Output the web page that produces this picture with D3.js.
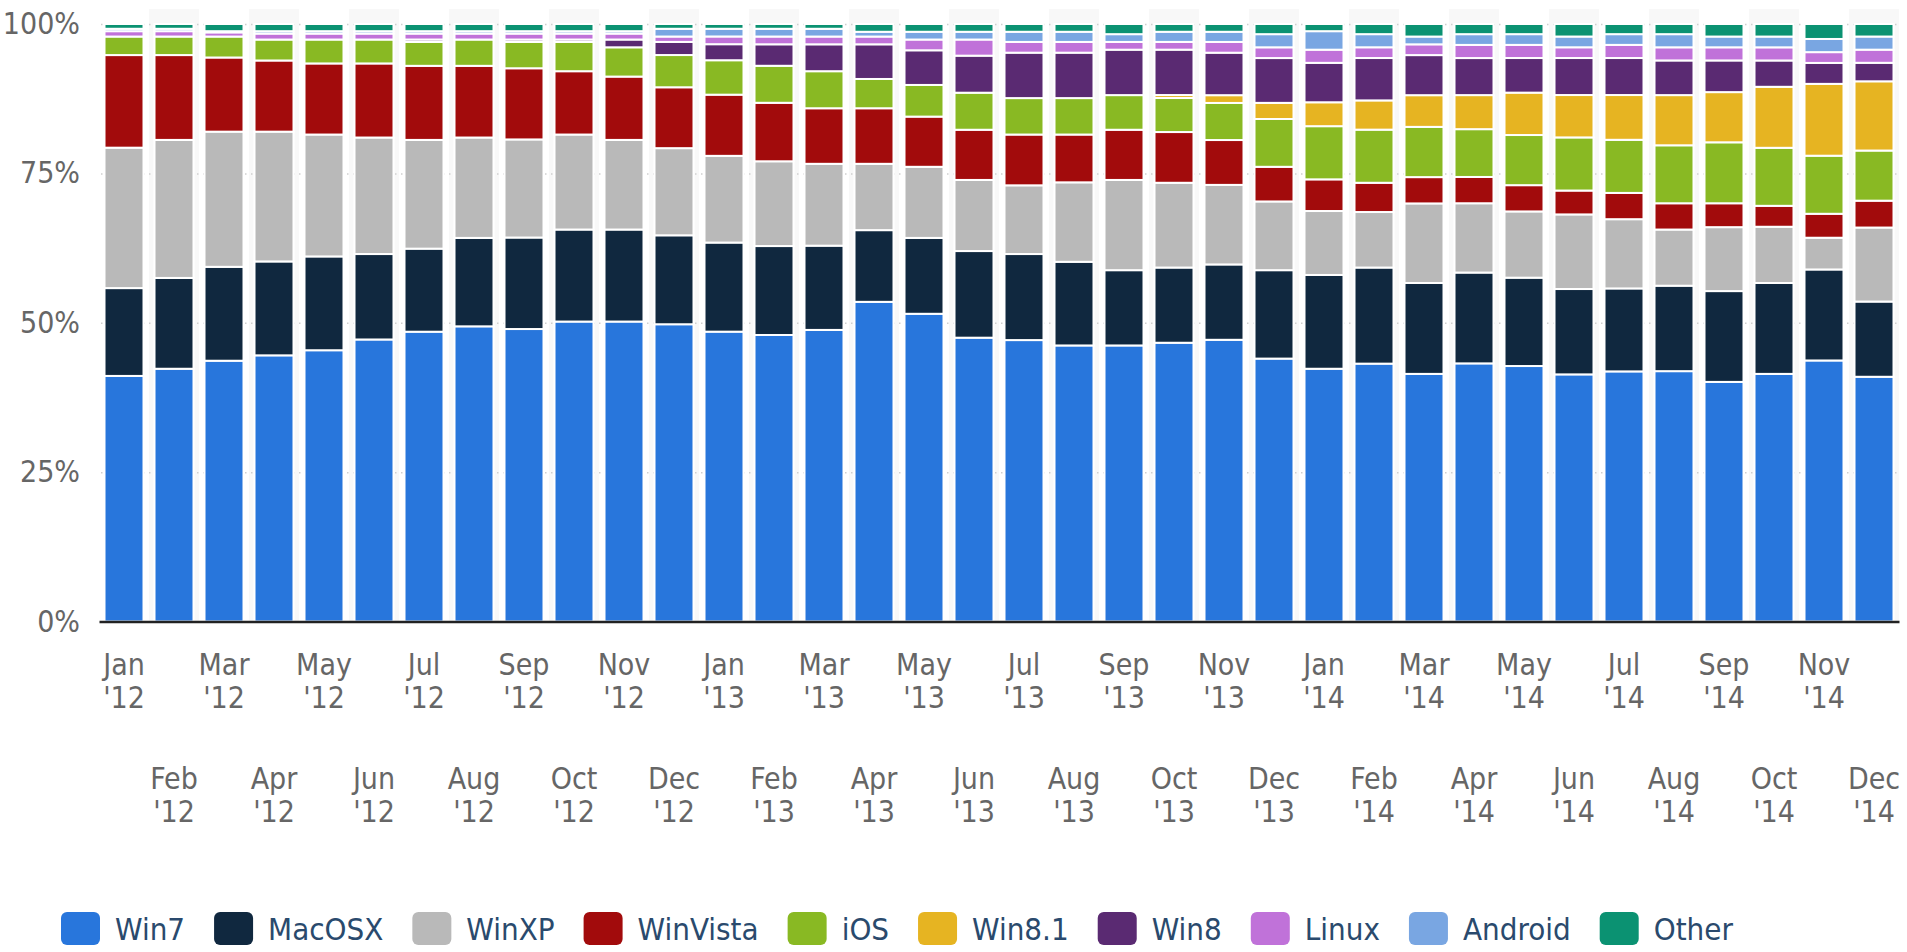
<!DOCTYPE html>
<html>
<head>
<meta charset="utf-8">
<script src="https://cdn.jsdelivr.net/npm/d3@7/dist/d3.min.js"></script>
<style>
  body { margin: 0; background: #fff; }
  svg { display: block; font-family: "DejaVu Sans Condensed", "DejaVu Sans", sans-serif; font-stretch: condensed; }
  .ylab text, .xlab text { fill: #666; font-size: 30px; }
  .grid line { stroke: #cfcfcf; stroke-width: 1.5; stroke-dasharray: 1.5 4.5; }
  .legend text { fill: #2a4a6d; font-size: 31px; }
</style>
</head>
<body>
<svg width="1907" height="952"></svg>
<script>
const categories = [
  "Jan '12", "Feb '12", "Mar '12", "Apr '12", "May '12", "Jun '12",
  "Jul '12", "Aug '12", "Sep '12", "Oct '12", "Nov '12", "Dec '12",
  "Jan '13", "Feb '13", "Mar '13", "Apr '13", "May '13", "Jun '13",
  "Jul '13", "Aug '13", "Sep '13", "Oct '13", "Nov '13", "Dec '13",
  "Jan '14", "Feb '14", "Mar '14", "Apr '14", "May '14", "Jun '14",
  "Jul '14", "Aug '14", "Sep '14", "Oct '14", "Nov '14", "Dec '14"
];

const win7 = [41.1, 42.3, 43.6, 44.5, 45.4, 47.2, 48.5, 49.4, 48.9, 50.2, 50.2, 49.8,
  48.8, 48.0, 48.8, 53.5, 51.5, 47.5, 47.1, 46.2, 46.2, 46.7, 47.1, 44.0,
  42.3, 43.2, 41.4, 43.2, 42.8, 41.4, 41.9, 41.9, 40.1, 41.4, 43.6, 41.0];
const macOSX = [14.7, 15.2, 15.7, 15.7, 15.7, 14.3, 13.9, 14.8, 15.3, 15.4, 15.4, 14.9,
  15.0, 14.9, 14.1, 12.0, 12.7, 14.5, 14.4, 14.0, 12.6, 12.6, 12.6, 14.8,
  15.7, 16.1, 15.2, 15.2, 14.8, 14.3, 13.9, 14.3, 15.2, 15.2, 15.2, 12.6];
const winXP = [23.5, 23.1, 22.6, 21.7, 20.4, 19.5, 18.2, 16.8, 16.4, 15.9, 15.0, 14.6,
  14.6, 14.2, 13.7, 11.1, 11.9, 11.9, 11.5, 13.3, 15.1, 14.2, 13.3, 11.5,
  10.7, 9.3, 13.3, 11.6, 11.1, 12.5, 11.6, 9.4, 10.7, 9.4, 5.3, 12.4];
const winVista = [15.5, 14.2, 12.4, 11.9, 11.9, 12.4, 12.4, 12.0, 11.9, 10.6, 10.6, 10.2,
  10.3, 9.8, 9.3, 9.3, 8.4, 8.4, 8.5, 8.0, 8.4, 8.5, 7.5, 5.8,
  5.3, 4.9, 4.4, 4.4, 4.4, 4.0, 4.4, 4.4, 4.0, 3.5, 4.0, 4.5];
const iOS = [3.1, 3.1, 3.5, 3.5, 4.0, 4.0, 4.0, 4.4, 4.4, 4.9, 4.9, 5.4,
  5.8, 6.2, 6.2, 4.9, 5.3, 6.2, 6.1, 6.1, 5.8, 5.7, 6.2, 8.0,
  8.9, 8.9, 8.4, 8.0, 8.4, 8.9, 8.9, 9.7, 10.2, 9.7, 9.7, 8.4];
const win81 = [0, 0, 0, 0, 0, 0, 0, 0, 0, 0, 0, 0,
  0, 0, 0, 0, 0, 0, 0, 0, 0, 0.5, 1.3, 2.7,
  4.0, 4.9, 5.3, 5.7, 7.1, 7.1, 7.5, 8.4, 8.4, 10.2, 12.0, 11.6];
const win8 = [0, 0, 0, 0, 0, 0, 0.4, 0, 0.4, 0.4, 1.3, 2.2,
  2.7, 3.6, 4.5, 5.8, 5.8, 6.2, 7.6, 7.6, 7.6, 7.6, 7.1, 7.5,
  6.6, 7.1, 6.7, 6.2, 5.8, 6.2, 6.2, 5.8, 5.3, 4.4, 3.5, 3.1];
const linux = [0.9, 0.9, 0.7, 1.0, 1.0, 1.0, 1.0, 1.0, 1.0, 1.0, 1.0, 0.9,
  1.3, 1.3, 1.3, 1.3, 1.8, 2.7, 1.8, 1.8, 1.3, 1.3, 1.8, 1.8,
  2.2, 1.8, 1.8, 2.2, 2.2, 1.8, 2.2, 2.2, 2.2, 2.2, 1.8, 2.2];
const android = [0.4, 0.4, 0.2, 0.4, 0.4, 0.4, 0.4, 0.4, 0.4, 0.4, 0.4, 1.3,
  1.3, 1.3, 1.3, 0.8, 1.3, 1.3, 1.7, 1.7, 1.3, 1.7, 1.7, 2.2,
  3.1, 2.2, 1.3, 1.8, 1.8, 1.8, 1.8, 2.2, 1.8, 1.8, 2.2, 2.2];
const other = [0.8, 0.8, 1.2, 1.2, 1.2, 1.2, 1.2, 1.2, 1.2, 1.2, 1.2, 0.8,
  0.8, 0.8, 0.8, 1.3, 1.3, 1.3, 1.3, 1.3, 1.7, 1.3, 1.3, 1.7,
  1.2, 1.7, 2.1, 1.7, 1.7, 2.1, 1.7, 1.7, 2.1, 2.1, 2.5, 2.1];

const seriesNames = ['Win7', 'MacOSX', 'WinXP', 'WinVista', 'iOS', 'Win8.1', 'Win8', 'Linux', 'Android', 'Other'];
const seriesValues = [win7, macOSX, winXP, winVista, iOS, win81, win8, linux, android, other];
const colors = ['#2876dc', '#10283f', '#b9b9b9', '#a20b0c', '#89b923', '#e6b422', '#5a2a72', '#c072d9', '#79a6e2', '#0b9272'];
const yTicks = [0, 0.25, 0.5, 0.75, 1];

// table for d3.stack
const table = categories.map((c, i) => {
  const row = { cat: c };
  seriesNames.forEach((n, k) => row[n] = seriesValues[k][i]);
  return row;
});

const svg = d3.select('svg');
const plotLeft = 101, plotRight = 1899, plotTop = 24, plotBottom = 621.5;

const x = d3.scaleBand()
  .domain(categories)
  .range([99, 1899])
  .paddingInner(0.22)
  .paddingOuter(0.11);

const y = d3.scaleLinear()
  .domain([0, 1])
  .range([plotBottom, plotTop]);

const color = d3.scaleOrdinal().domain(seriesNames).range(colors);

const stacked = d3.stack()
  .keys(seriesNames)
  .offset(d3.stackOffsetExpand)(table);

// alternating column bands
const gap = x.step() - x.bandwidth();
svg.append('g')
  .selectAll('rect')
  .data(categories.filter((c, i) => i % 2 == 1))
  .enter()
  .append('rect')
  .attr('x', (c) => x(c) - gap / 2)
  .attr('y', 9)
  .attr('width', x.step())
  .attr('height', plotBottom - 9)
  .attr('fill', '#f8f8f8');

// dotted grid lines
svg.append('g')
  .attr('class', 'grid')
  .attr('transform', `translate(${plotLeft}, 0)`)
  .call(d3.axisLeft(y)
    .tickValues(yTicks)
    .tickSize(-(plotRight - plotLeft))
    .tickFormat(''))
  .call(g => g.select('.domain').remove());

// bars
svg.append('g')
  .selectAll('g')
  .data(stacked)
  .enter()
  .append('g')
  .attr('fill', (d) => color(d.key))
  .selectAll('rect')
  .data((d) => d.filter(s => s[1] - s[0] > 0))
  .enter()
  .append('rect')
  .attr('x', (d) => x(d.data.cat))
  .attr('y', (d) => y(d[1]))
  .attr('width', x.bandwidth())
  .attr('height', (d) => y(d[0]) - y(d[1]))
  .attr('stroke', '#fff')
  .attr('stroke-width', 2);

// y labels
svg.append('g')
  .attr('class', 'ylab')
  .attr('transform', `translate(${plotLeft}, 0)`)
  .call(d3.axisLeft(y)
    .tickValues(yTicks)
    .tickFormat(d3.format('.0%'))
    .tickSize(0)
    .tickPadding(21))
  .call(g => g.select('.domain').remove())
  .call(g => g.attr('font-size', null).attr('font-family', null));

// x axis, labels on two staggered rows
const xAxis = svg.append('g')
  .attr('class', 'xlab')
  .attr('transform', `translate(0, ${plotBottom})`)
  .call(d3.axisBottom(x).tickSize(0));

xAxis.attr('font-size', null).attr('font-family', null);

xAxis.select('.domain')
  .attr('stroke', '#222')
  .attr('stroke-width', 2.5);

xAxis.selectAll('text')
  .attr('y', null)
  .attr('dy', null)
  .each(function (c, i) {
    const parts = c.split(' ');
    const base = i % 2 == 0 ? 53 : 167;
    const t = d3.select(this).text(null);
    t.append('tspan').attr('x', 0).attr('y', base).text(parts[0]);
    t.append('tspan').attr('x', 0).attr('y', base + 33).text(parts[1]);
  });

// legend
const legend = svg.append('g').attr('class', 'legend');
let lx = 61;
seriesNames.forEach((n) => {
  legend.append('rect')
    .attr('x', lx)
    .attr('y', 912)
    .attr('width', 39)
    .attr('height', 33)
    .attr('rx', 6)
    .attr('fill', color(n));
  const t = legend.append('text')
    .attr('x', lx + 54)
    .attr('y', 940)
    .text(n);
  lx = lx + 54 + t.node().getComputedTextLength() + 29;
});
</script>
</body>
</html>
